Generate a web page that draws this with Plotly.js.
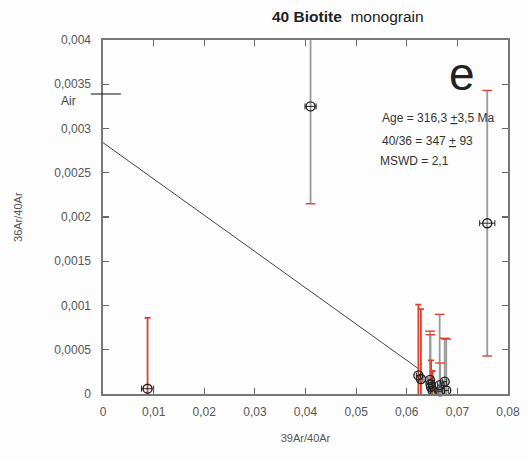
<!DOCTYPE html>
<html><head><meta charset="utf-8">
<script src="https://cdn.plot.ly/plotly-3.0.1.min.js"></script>
<style>html,body{margin:0;padding:0;background:#fdfdfd;}</style>
</head><body><div id="chart" style="width:528px;height:458px;"></div>
<script>
// Points whose vertical error bar is red
const redX     = [0.0088, 0.0623, 0.0628, 0.0648, 0.0651];
const redY     = [0.00006, 0.00021, 0.00017, 0.00008, 0.00004];
const redErrUp = [0.0008, 0.0008, 0.00079, 0.0003, 0.00022];
const redErrDn = [0.0008, 0.0008, 0.00079, 0.0003, 0.00022];
const redXErr  = [0.0012, 0.0004, 0.0004, 0.0004, 0.0004];
// Points whose vertical error bar is grey
const grayX     = [0.041, 0.0759, 0.0646, 0.0647, 0.0665, 0.0666, 0.0675, 0.0678];
const grayY     = [0.00325, 0.00193, 0.00016, 0.00011, 0.00010, 0.00003, 0.00014, 0.00004];
const grayErrUp = [0.0011, 0.0015, 0.00055, 0.00056, 0.0008, 0.00032, 0.00049, 0.00058];
const grayErrDn = [0.0011, 0.0015, 0.00055, 0.00056, 0.0008, 0.00032, 0.00049, 0.00058];
const grayXErr  = [0.0011, 0.0015, 0.0004, 0.0004, 0.0004, 0.0004, 0.0004, 0.0004];
// Regression line
const lineX = [0, 0.0622];
const lineY = [0.00284, 0.00029];
// Air reference value
const airY = 0.00339;
// Tick labels
const xTickVals = [0, 0.01, 0.02, 0.03, 0.04, 0.05, 0.06, 0.07, 0.08];
const xTickText = ['0', '0,01', '0,02', '0,03', '0,04', '0,05', '0,06', '0,07', '0,08'];
const yTickVals = [0, 0.0005, 0.001, 0.0015, 0.002, 0.0025, 0.003, 0.0035, 0.004];
const yTickText = ['0', '0,0005', '0,001', '0,0015', '0,002', '0,0025', '0,003', '0,0035', '0,004'];

const RED = '#e0402c', GRAY = '#9a9a9a', INK = '#222';
const FONT = 'Liberation Sans, Arial, sans-serif';
const allX = redX.concat(grayX), allY = redY.concat(grayY), allXErr = redXErr.concat(grayXErr);
// red caps for the grey bars, at the ends of each bar
const capX = grayX.concat(grayX);
const capY = grayY.map((v, i) => v + grayErrUp[i]).concat(grayY.map((v, i) => v - grayErrDn[i]));

const traces = [
  {x: lineX, y: lineY, mode: 'lines', line: {color: '#444', width: 1}, hoverinfo: 'skip'},
  {x: grayX, y: grayY, mode: 'markers', marker: {size: 1, opacity: 0},
   error_y: {type: 'data', symmetric: false, array: grayErrUp, arrayminus: grayErrDn, color: GRAY, thickness: 1.8, width: 0}},
  {x: capX, y: capY, mode: 'markers', marker: {symbol: 'line-ew-open', size: 7, color: RED, line: {color: RED, width: 1.4}}},
  {x: redX, y: redY, mode: 'markers', marker: {size: 1, opacity: 0},
   error_y: {type: 'data', symmetric: false, array: redErrUp, arrayminus: redErrDn, color: RED, thickness: 1.8, width: 3}},
  {x: allX, y: allY, mode: 'markers', cliponaxis: false,
   marker: {symbol: 'circle-open', size: 9, color: INK, line: {width: 1.4, color: INK}},
   error_x: {type: 'data', array: allXErr, color: INK, thickness: 1, width: 3}}
];

const axFont = {family: FONT, size: 12, color: '#555'};
const layout = {
  width: 528, height: 458,
  paper_bgcolor: '#fdfdfd', plot_bgcolor: '#fdfdfd',
  margin: {l: 103, r: 20, t: 40, b: 64},
  showlegend: false,
  xaxis: {range: [0, 0.08], tickvals: xTickVals, ticktext: xTickText, ticks: 'inside', ticklen: 6,
          tickcolor: '#666', tickwidth: 1.2, showline: true, linecolor: '#777', linewidth: 1.6, mirror: 'ticks',
          showgrid: false, zeroline: false, tickfont: axFont, ticklabelstandoff: 6,
          title: {text: '39Ar/40Ar', font: {family: FONT, size: 11, color: '#555'}, standoff: 16}},
  yaxis: {range: [0, 0.004], tickvals: yTickVals, ticktext: yTickText, ticks: 'inside', ticklen: 6,
          tickcolor: '#666', tickwidth: 1.2, showline: true, linecolor: '#777', linewidth: 1.6, mirror: 'ticks',
          showgrid: false, zeroline: false, tickfont: axFont, ticklabelstandoff: 8},
  shapes: [
    {type: 'line', xref: 'paper', yref: 'y', x0: -0.03, x1: 0.044, y0: airY, y1: airY, line: {color: '#333', width: 1.2}}
  ],
  annotations: [
    {xref: 'paper', yref: 'paper', x: -0.21, y: 0.5, xanchor: 'center', yanchor: 'middle', textangle: -90,
     text: '36Ar/40Ar', showarrow: false, font: {family: FONT, size: 11, color: '#555'}},
    {xref: 'paper', yref: 'paper', x: 0.605, y: 1.066, xanchor: 'center', yanchor: 'middle',
     text: '<b>40 Biotite</b>  monograin', showarrow: false, font: {family: FONT, size: 15.5, color: '#222'}},
    {xref: 'paper', yref: 'y', x: -0.085, y: airY - 0.00008, xanchor: 'center', yanchor: 'middle',
     text: 'Air', showarrow: false, font: {family: FONT, size: 12, color: '#444'}},
    {xref: 'paper', yref: 'paper', x: 0.887, y: 0.904, xanchor: 'center', yanchor: 'middle',
     text: 'e', showarrow: false, font: {family: FONT, size: 46, color: '#222'}},
    {xref: 'paper', yref: 'paper', x: 0.683, y: 0.781, xanchor: 'left', yanchor: 'middle',
     text: 'Age = 316,3 <u>+</u>3,5 Ma', showarrow: false, font: {family: FONT, size: 12, color: '#333'}},
    {xref: 'paper', yref: 'paper', x: 0.683, y: 0.716, xanchor: 'left', yanchor: 'middle',
     text: '40/36 = 347 <u>+</u> 93', showarrow: false, font: {family: FONT, size: 12, color: '#333'}},
    {xref: 'paper', yref: 'paper', x: 0.680, y: 0.659, xanchor: 'left', yanchor: 'middle',
     text: 'MSWD = 2,1', showarrow: false, font: {family: FONT, size: 12, color: '#333'}}
  ]
};
Plotly.newPlot('chart', traces, layout, {staticPlot: true, displayModeBar: false});
</script></body></html>
